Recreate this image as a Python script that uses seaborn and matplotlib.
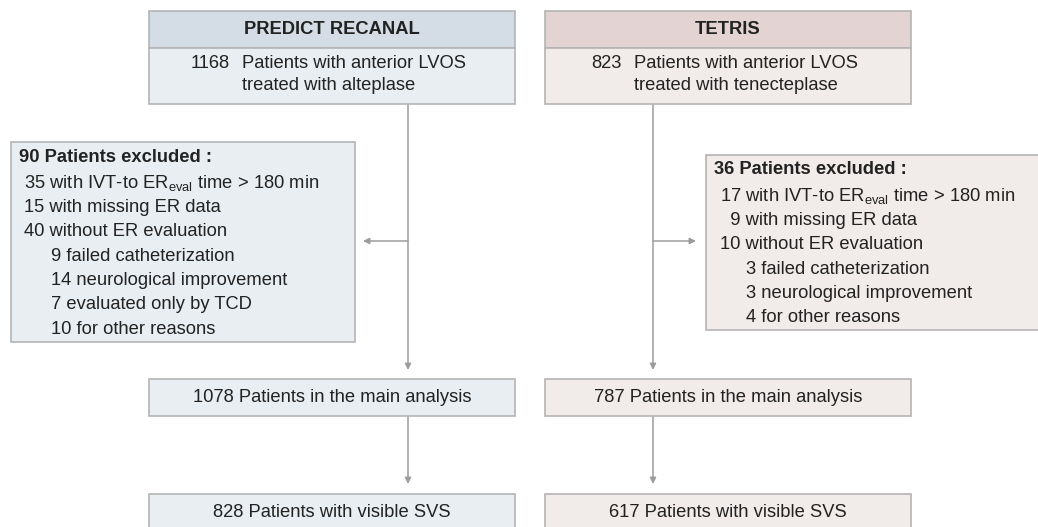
import matplotlib.pyplot as plt
import seaborn as sns
from matplotlib.patches import Rectangle

# data
cohorts = ['PREDICT RECANAL', 'TETRIS']
treatments = ['alteplase', 'tenecteplase']
n_enrolled = [1168, 823]
n_excluded = [90, 36]
n_late_eval = [35, 17]
n_missing_er = [15, 9]
n_no_eval = [40, 10]
no_eval_reasons = [
    ['failed catheterization', 'neurological improvement', 'evaluated only by TCD', 'for other reasons'],
    ['failed catheterization', 'neurological improvement', 'for other reasons'],
]
no_eval_counts = [[9, 14, 7, 10], [3, 3, 4]]
n_main = [1078, 787]
n_svs = [828, 617]

sns.set_theme(style='white')
plt.rcParams['font.family'] = ['Liberation Sans', 'DejaVu Sans']
plt.rcParams['mathtext.fontset'] = 'custom'
plt.rcParams['mathtext.rm'] = 'Liberation Sans'

head_colors = ['#d4dde5', '#e3d4d3']
body_colors = ['#e9eef2', '#f1ebe9']
edge = '#b4b4b4'
line_c = '#9c9c9c'
txt = '#222222'
fs = 13.2

fig = plt.figure(figsize=(10.38, 5.27), dpi=100)
ax = fig.add_axes([0, 0, 1, 1])
ax.set_xlim(0, 1038)
ax.set_ylim(527, 0)
ax.axis('off')

col_x = [149, 545]
col_w = 366
line_x = [408, 653]
excl_box = [(11, 142, 344, 199.5), (706, 155, 340, 174.5)]
excl_text_x = [19, 714]
excl_title_y = [157, 170]
arrow_tip_x = [363, 696]


def box(x, y, w, h, fc):
    ax.add_patch(Rectangle((x, y), w, h, facecolor=fc, edgecolor=edge, lw=1.2, zorder=2))


def arrow(x0, y0, x1, y1):
    ax.annotate('', xy=(x1, y1), xytext=(x0, y0),
                arrowprops=dict(arrowstyle='-|>', color=line_c, lw=1.1,
                                mutation_scale=9, shrinkA=0, shrinkB=0), zorder=1)


for i in range(2):
    x = col_x[i]
    cx = x + col_w / 2
    # header + enrolled
    box(x, 10.5, col_w, 37, head_colors[i])
    box(x, 47.5, col_w, 56, body_colors[i])
    ax.text(cx, 29, cohorts[i], ha='center', va='center', fontsize=fs,
            fontweight='bold', color=txt, zorder=3)
    num_x = [230, 622][i]
    ax.text(num_x, 63, str(n_enrolled[i]), ha='right', va='center', fontsize=fs, color=txt, zorder=3)
    ax.text(num_x + 12, 63, 'Patients with anterior LVOS', ha='left', va='center',
            fontsize=fs, color=txt, zorder=3)
    ax.text(num_x + 12, 86, f'treated with {treatments[i]}', ha='left', va='center',
            fontsize=fs, color=txt, zorder=3)

    # flow lines
    arrow(line_x[i], 103.5, line_x[i], 370)
    arrow(line_x[i], 241, arrow_tip_x[i], 241)
    arrow(line_x[i], 416, line_x[i], 484)

    # exclusion box
    bx, by, bw, bh = excl_box[i]
    box(bx, by, bw, bh, body_colors[i])
    tx = excl_text_x[i]
    ty = excl_title_y[i]
    ax.text(tx, ty, f'{n_excluded[i]} Patients excluded :', ha='left', va='center',
            fontsize=fs, fontweight='bold', color=txt, zorder=3)
    lines = [
        (0, n_late_eval[i], r'with IVT-to ER$_{\mathregular{eval}}$ time > 180 min'),
        (0, n_missing_er[i], 'with missing ER data'),
        (0, n_no_eval[i], 'without ER evaluation'),
    ] + [(1, c, r) for c, r in zip(no_eval_counts[i], no_eval_reasons[i])]
    for k, (lvl, n, label) in enumerate(lines):
        yb = ty + 24.3 * (k + 1) + 6.5
        if lvl == 0:
            s = f'{n} {label}' if n >= 10 else f'  {n} {label}'
            xx = tx + 5.5
        else:
            s = f'{n} {label}'
            xx = tx + 32
        ax.text(xx, yb, s, ha='left', va='baseline', fontsize=fs, color=txt, zorder=3)

    # main analysis and SVS boxes
    box(x, 379, col_w, 37, body_colors[i])
    ax.text(cx, 397.5, f'{n_main[i]} Patients in the main analysis', ha='center',
            va='center', fontsize=fs, color=txt, zorder=3)
    box(x, 494, col_w, 40, body_colors[i])
    ax.text(cx, 512.5, f'{n_svs[i]} Patients with visible SVS', ha='center',
            va='center', fontsize=fs, color=txt, zorder=3)

fig.savefig('out.png', dpi=100)
